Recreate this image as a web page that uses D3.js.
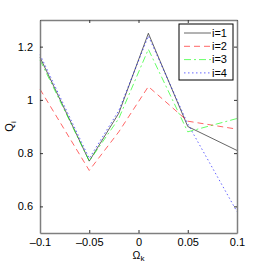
<!DOCTYPE html>
<html>
<head>
<meta charset="utf-8">
<script src="https://cdn.jsdelivr.net/npm/d3@7"></script>
<style>
body { margin: 0; background: #fff; }
text { font-family: "Liberation Sans", Arial, sans-serif; }
</style>
</head>
<body>
<div id="chart"></div>
<script>
var w = 263,
    h = 263,
    m = [20, 26, 30, 40]; // top right bottom left

var omega = [-0.1, -0.05, -0.02, 0.01, 0.05, 0.1];
var q1 = [1.16, 0.77, 0.95, 1.25, 0.90, 0.81];
var q2 = [1.04, 0.735, 0.88, 1.05, 0.92, 0.89];
var q3 = [1.15, 0.77, 0.93, 1.19, 0.88, 0.93];
var q4 = [1.17, 0.78, 0.96, 1.24, 0.91, 0.58];
var names = ["i=1", "i=2", "i=3", "i=4"];
var xTicks = [-0.1, -0.05, 0, 0.05, 0.1];
var yTicks = [0.6, 0.8, 1, 1.2];

var series = [
  {name: names[0], vals: q1, color: "#000000", dash: null},
  {name: names[1], vals: q2, color: "#ff0000", dash: "6,4"},
  {name: names[2], vals: q3, color: "#00ff00", dash: "7,3,2,3"},
  {name: names[3], vals: q4, color: "#0000ff", dash: "1.5,2.5"}
];

var x = d3.scaleLinear().domain([-0.1, 0.1]).range([m[3], w - m[1]]);
var y = d3.scaleLinear().domain([0.5, 1.3]).range([h - m[2], m[0]]);

var svg = d3.select("#chart").append("svg")
    .attr("width", w)
    .attr("height", h);

var fmt = function(d) { return d < 0 ? "\u2013" + Math.abs(d) : String(d); };

// lines
var line = d3.line()
    .x(function(d, i) { return x(omega[i]); })
    .y(function(d) { return y(d); });

svg.selectAll("path.series")
    .data(series)
  .enter().append("path")
    .attr("class", "series")
    .attr("d", function(d) { return line(d.vals); })
    .attr("fill", "none")
    .attr("stroke", function(d) { return d.color; })
    .attr("stroke-opacity", 0.6)
    .attr("stroke-width", 1)
    .attr("stroke-dasharray", function(d) { return d.dash; });

// axes box with inward ticks on all sides
var axisColor = "#7f7f7f";
var xb = svg.append("g").attr("transform", "translate(0," + (h - m[2]) + ")")
    .call(d3.axisBottom(x).tickValues(xTicks).tickSizeInner(-3).tickSizeOuter(0).tickFormat(fmt).tickPadding(5));
var xt = svg.append("g").attr("transform", "translate(0," + m[0] + ")")
    .call(d3.axisTop(x).tickValues(xTicks).tickSizeInner(-3).tickSizeOuter(0).tickFormat(""));
var yl = svg.append("g").attr("transform", "translate(" + m[3] + ",0)")
    .call(d3.axisLeft(y).tickValues(yTicks).tickSizeInner(-3).tickSizeOuter(0).tickFormat(fmt).tickPadding(7));
var yr = svg.append("g").attr("transform", "translate(" + (w - m[1]) + ",0)")
    .call(d3.axisRight(y).tickValues(yTicks).tickSizeInner(-3).tickSizeOuter(0).tickFormat(""));

[xb, xt, yl, yr].forEach(function(g) {
  g.select(".domain").attr("stroke", axisColor).attr("stroke-width", 1.5);
  g.selectAll(".tick line").attr("stroke", "#333");
  g.selectAll("text").attr("fill", "#000").style("font-size", "11px")
      .style("font-family", "'Liberation Sans', Arial, sans-serif");
});

// axis labels
var xlab = svg.append("text")
    .attr("x", x(0))
    .attr("y", 259)
    .attr("text-anchor", "middle")
    .style("font-size", "10.5px");
xlab.append("tspan").text("\u03a9");
xlab.append("tspan").attr("dy", 2).style("font-size", "8px").text("k");

var ylab = svg.append("text")
    .attr("transform", "translate(13," + y(0.9) + ") rotate(-90)")
    .attr("text-anchor", "middle")
    .style("font-size", "11px");
ylab.append("tspan").text("Q");
ylab.append("tspan").attr("dy", 3).style("font-size", "8px").text("i");

// legend
var lg = svg.append("g").attr("transform", "translate(179,24)");
lg.append("rect")
    .attr("width", 54)
    .attr("height", 56)
    .attr("fill", "#fff")
    .attr("stroke", "#000")
    .attr("stroke-width", 1);

var item = lg.selectAll("g.item")
    .data(series)
  .enter().append("g")
    .attr("class", "item")
    .attr("transform", function(d, i) { return "translate(0," + (9 + i * 13.3) + ")"; });

item.append("line")
    .attr("x1", 5).attr("x2", 32)
    .attr("stroke", function(d) { return d.color; })
    .attr("stroke-opacity", 0.6)
    .attr("stroke-dasharray", function(d) { return d.dash; });

item.append("text")
    .attr("x", 33)
    .attr("dy", "0.35em")
    .style("font-size", "11px")
    .text(function(d) { return d.name; });
</script>
</body>
</html>
